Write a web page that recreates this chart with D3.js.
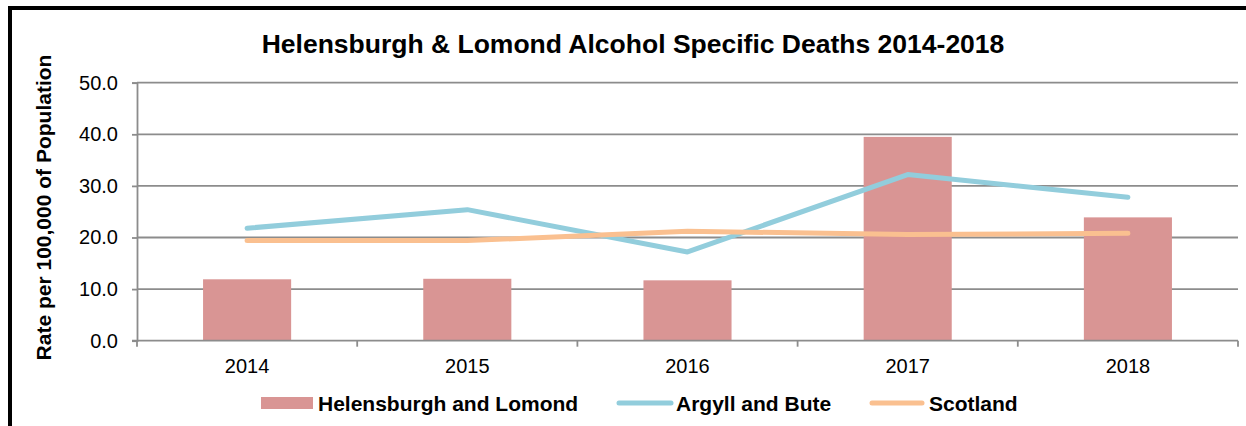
<!DOCTYPE html>
<html>
<head>
<meta charset="utf-8">
<script src="https://cdn.jsdelivr.net/npm/d3@7"></script>
<style>
  html, body { margin: 0; padding: 0; background: #fff; }
  svg { display: block; font-family: Arial, "Liberation Sans", sans-serif; }
</style>
</head>
<body>
<svg id="chart" width="1246" height="426"></svg>
<script>
const years = ["2014", "2015", "2016", "2017", "2018"];
const helensburgh = [11.9, 12.0, 11.7, 39.5, 23.9];
const argyll = [21.8, 25.4, 17.2, 32.2, 27.8];
const scotland = [19.4, 19.4, 21.2, 20.6, 20.8];
const yTicks = [0, 10, 20, 30, 40, 50];
const seriesNames = ["Helensburgh and Lomond", "Argyll and Bute", "Scotland"];
const colors = { bar: "#d99594", argyll: "#92cddc", scotland: "#fac090" };

const svg = d3.select("#chart");
const W = 1246, H = 426;
svg.append("rect").attr("width", W).attr("height", H).attr("fill", "#fff");
// outer border (extends past the right and bottom edges)
svg.append("rect").attr("x", 10).attr("y", 8).attr("width", W + 20).attr("height", H + 20)
  .attr("fill", "none").attr("stroke", "#000").attr("stroke-width", 4);

const m = { left: 137, right: 1238, top: 82.7, bottom: 340.7 };
const x = d3.scaleBand().domain(years).range([m.left, m.right]).paddingInner(0).paddingOuter(0);
const y = d3.scaleLinear().domain([0, 50]).range([m.bottom, m.top]);

// gridlines
svg.append("g").selectAll("line").data(yTicks.filter(d => d > 0)).join("line")
  .attr("x1", m.left).attr("x2", m.right)
  .attr("y1", d => y(d)).attr("y2", d => y(d))
  .attr("stroke", "#8c8c8c").attr("stroke-width", 1.8);

// y axis
const yAxis = svg.append("g").attr("transform", `translate(${m.left},0)`)
  .call(d3.axisLeft(y).tickValues(yTicks).tickFormat(d3.format(".1f")).tickSize(5).tickPadding(14));
yAxis.select(".domain").attr("stroke", "#8c8c8c").attr("stroke-width", 1.8);
yAxis.selectAll(".tick line").attr("stroke", "#8c8c8c").attr("stroke-width", 1.8);
yAxis.selectAll(".tick text").attr("font-size", 20).attr("fill", "#000").attr("font-family", "Arial, 'Liberation Sans', sans-serif");

// bars
const bw = x.bandwidth() * 0.4;
svg.append("g").selectAll("rect").data(years).join("rect")
  .attr("x", d => x(d) + x.bandwidth() / 2 - bw / 2)
  .attr("width", bw)
  .attr("y", (d, i) => y(helensburgh[i]))
  .attr("height", (d, i) => y(0) - y(helensburgh[i]))
  .attr("fill", colors.bar);

// x axis
const xAxis = svg.append("g").attr("transform", `translate(0,${m.bottom})`)
  .call(d3.axisBottom(x).tickSize(0).tickPadding(18));
xAxis.select(".domain").remove();
xAxis.selectAll(".tick text").attr("font-size", 20).attr("fill", "#000").attr("font-family", "Arial, 'Liberation Sans', sans-serif");
svg.append("line").attr("x1", m.left - 5).attr("x2", m.right).attr("y1", m.bottom).attr("y2", m.bottom)
  .attr("stroke", "#8c8c8c").attr("stroke-width", 1.8);
const bounds = years.map(d => x(d)).concat([m.right]);
svg.append("g").selectAll("line").data(bounds).join("line")
  .attr("x1", d => d).attr("x2", d => d).attr("y1", m.bottom).attr("y2", m.bottom + 6)
  .attr("stroke", "#8c8c8c").attr("stroke-width", 1.8);

// lines
const cx = d => x(d) + x.bandwidth() / 2;
const line = d3.line().x((d, i) => cx(years[i])).y(d => y(d));
svg.append("path").datum(argyll).attr("d", line).attr("fill", "none")
  .attr("stroke", colors.argyll).attr("stroke-width", 5).attr("stroke-linecap", "round").attr("stroke-linejoin", "round");
svg.append("path").datum(scotland).attr("d", line).attr("fill", "none")
  .attr("stroke", colors.scotland).attr("stroke-width", 5).attr("stroke-linecap", "round").attr("stroke-linejoin", "round");

// title
svg.append("text").attr("x", 633).attr("y", 53).attr("text-anchor", "middle")
  .attr("font-size", 26.5).attr("font-weight", "bold").text("Helensburgh & Lomond Alcohol Specific Deaths 2014-2018");

// y label
svg.append("text").attr("transform", "translate(51,207.5) rotate(-90)").attr("text-anchor", "middle")
  .attr("font-size", 21).attr("font-weight", "bold").text("Rate per 100,000 of Population");

// legend
const lg = svg.append("g");
lg.append("rect").attr("x", 261).attr("y", 397).attr("width", 52).attr("height", 12).attr("fill", colors.bar);
lg.append("text").attr("x", 318).attr("y", 411).attr("font-size", 21).attr("font-weight", "bold").text(seriesNames[0]);
lg.append("line").attr("x1", 619).attr("x2", 671).attr("y1", 403).attr("y2", 403)
  .attr("stroke", colors.argyll).attr("stroke-width", 5).attr("stroke-linecap", "round");
lg.append("text").attr("x", 676).attr("y", 411).attr("font-size", 21).attr("font-weight", "bold").text(seriesNames[1]);
lg.append("line").attr("x1", 872).attr("x2", 922).attr("y1", 403).attr("y2", 403)
  .attr("stroke", colors.scotland).attr("stroke-width", 5).attr("stroke-linecap", "round");
lg.append("text").attr("x", 929).attr("y", 411).attr("font-size", 21).attr("font-weight", "bold").text(seriesNames[2]);
</script>
</body>
</html>
